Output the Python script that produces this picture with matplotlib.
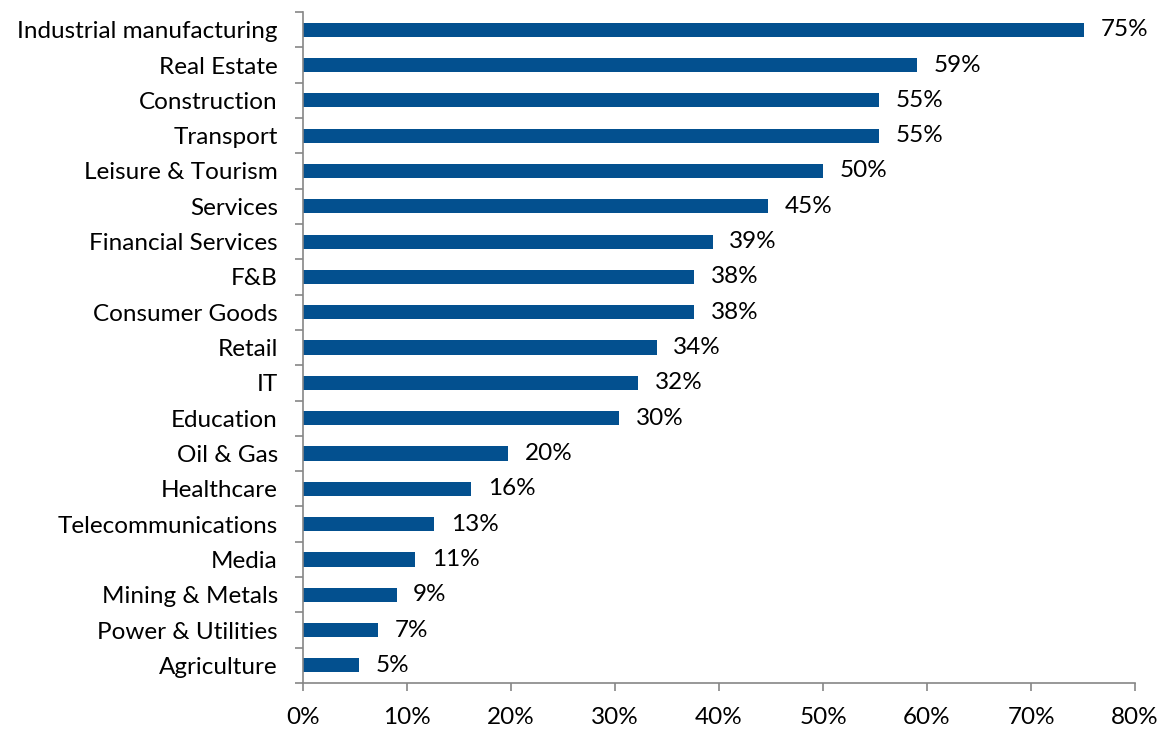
import matplotlib
matplotlib.use("Agg")
import matplotlib.pyplot as plt
import numpy as np
from matplotlib.ticker import FixedLocator, PercentFormatter

sectors = [
    "Industrial manufacturing", "Real Estate", "Construction", "Transport",
    "Leisure & Tourism", "Services", "Financial Services", "F&B",
    "Consumer Goods", "Retail", "IT", "Education", "Oil & Gas", "Healthcare",
    "Telecommunications", "Media", "Mining & Metals", "Power & Utilities",
    "Agriculture",
]
shares = [75.1, 59.0, 55.4, 55.4, 50.0, 44.7, 39.4, 37.6, 37.6, 34.0,
          32.2, 30.4, 19.7, 16.2, 12.6, 10.8, 9.0, 7.2, 5.4]
x_ticks = [0, 10, 20, 30, 40, 50, 60, 70, 80]

BAR = "#03508F"
AXIS = "#868686"
FS = 17.5

plt.rcParams["font.family"] = ["Lato", "DejaVu Sans"]

fig = plt.figure(figsize=(11.63, 7.29), dpi=100)
ax = fig.add_axes([0.2605, 0.063, 0.7155, 0.9205])

y = np.arange(len(sectors))
ax.barh(y, shares, height=0.4, color=BAR)
for yi, v in zip(y, shares):
    ax.text(v + 1.6, yi, f"{v:.0f}%", va="center", ha="left", fontsize=FS)

ax.set_xlim(0, 80)
ax.set_ylim(len(sectors) - 0.5, -0.5)
ax.set_yticks(y)
ax.set_yticklabels(sectors, fontsize=FS)
ax.yaxis.set_minor_locator(FixedLocator(np.arange(-0.5, len(sectors), 1.0)))
ax.tick_params(axis="y", which="major", length=0, pad=18)
ax.tick_params(axis="y", which="minor", length=6, color=AXIS, width=1.2)
ax.set_xticks(x_ticks)
ax.xaxis.set_major_formatter(PercentFormatter(decimals=0))
ax.tick_params(axis="x", length=6, color=AXIS, width=1.2, labelsize=FS, pad=11)

for side in ("top", "right"):
    ax.spines[side].set_visible(False)
for side in ("left", "bottom"):
    ax.spines[side].set_color(AXIS)
    ax.spines[side].set_linewidth(1.2)

fig.savefig("out.png", dpi=100)
